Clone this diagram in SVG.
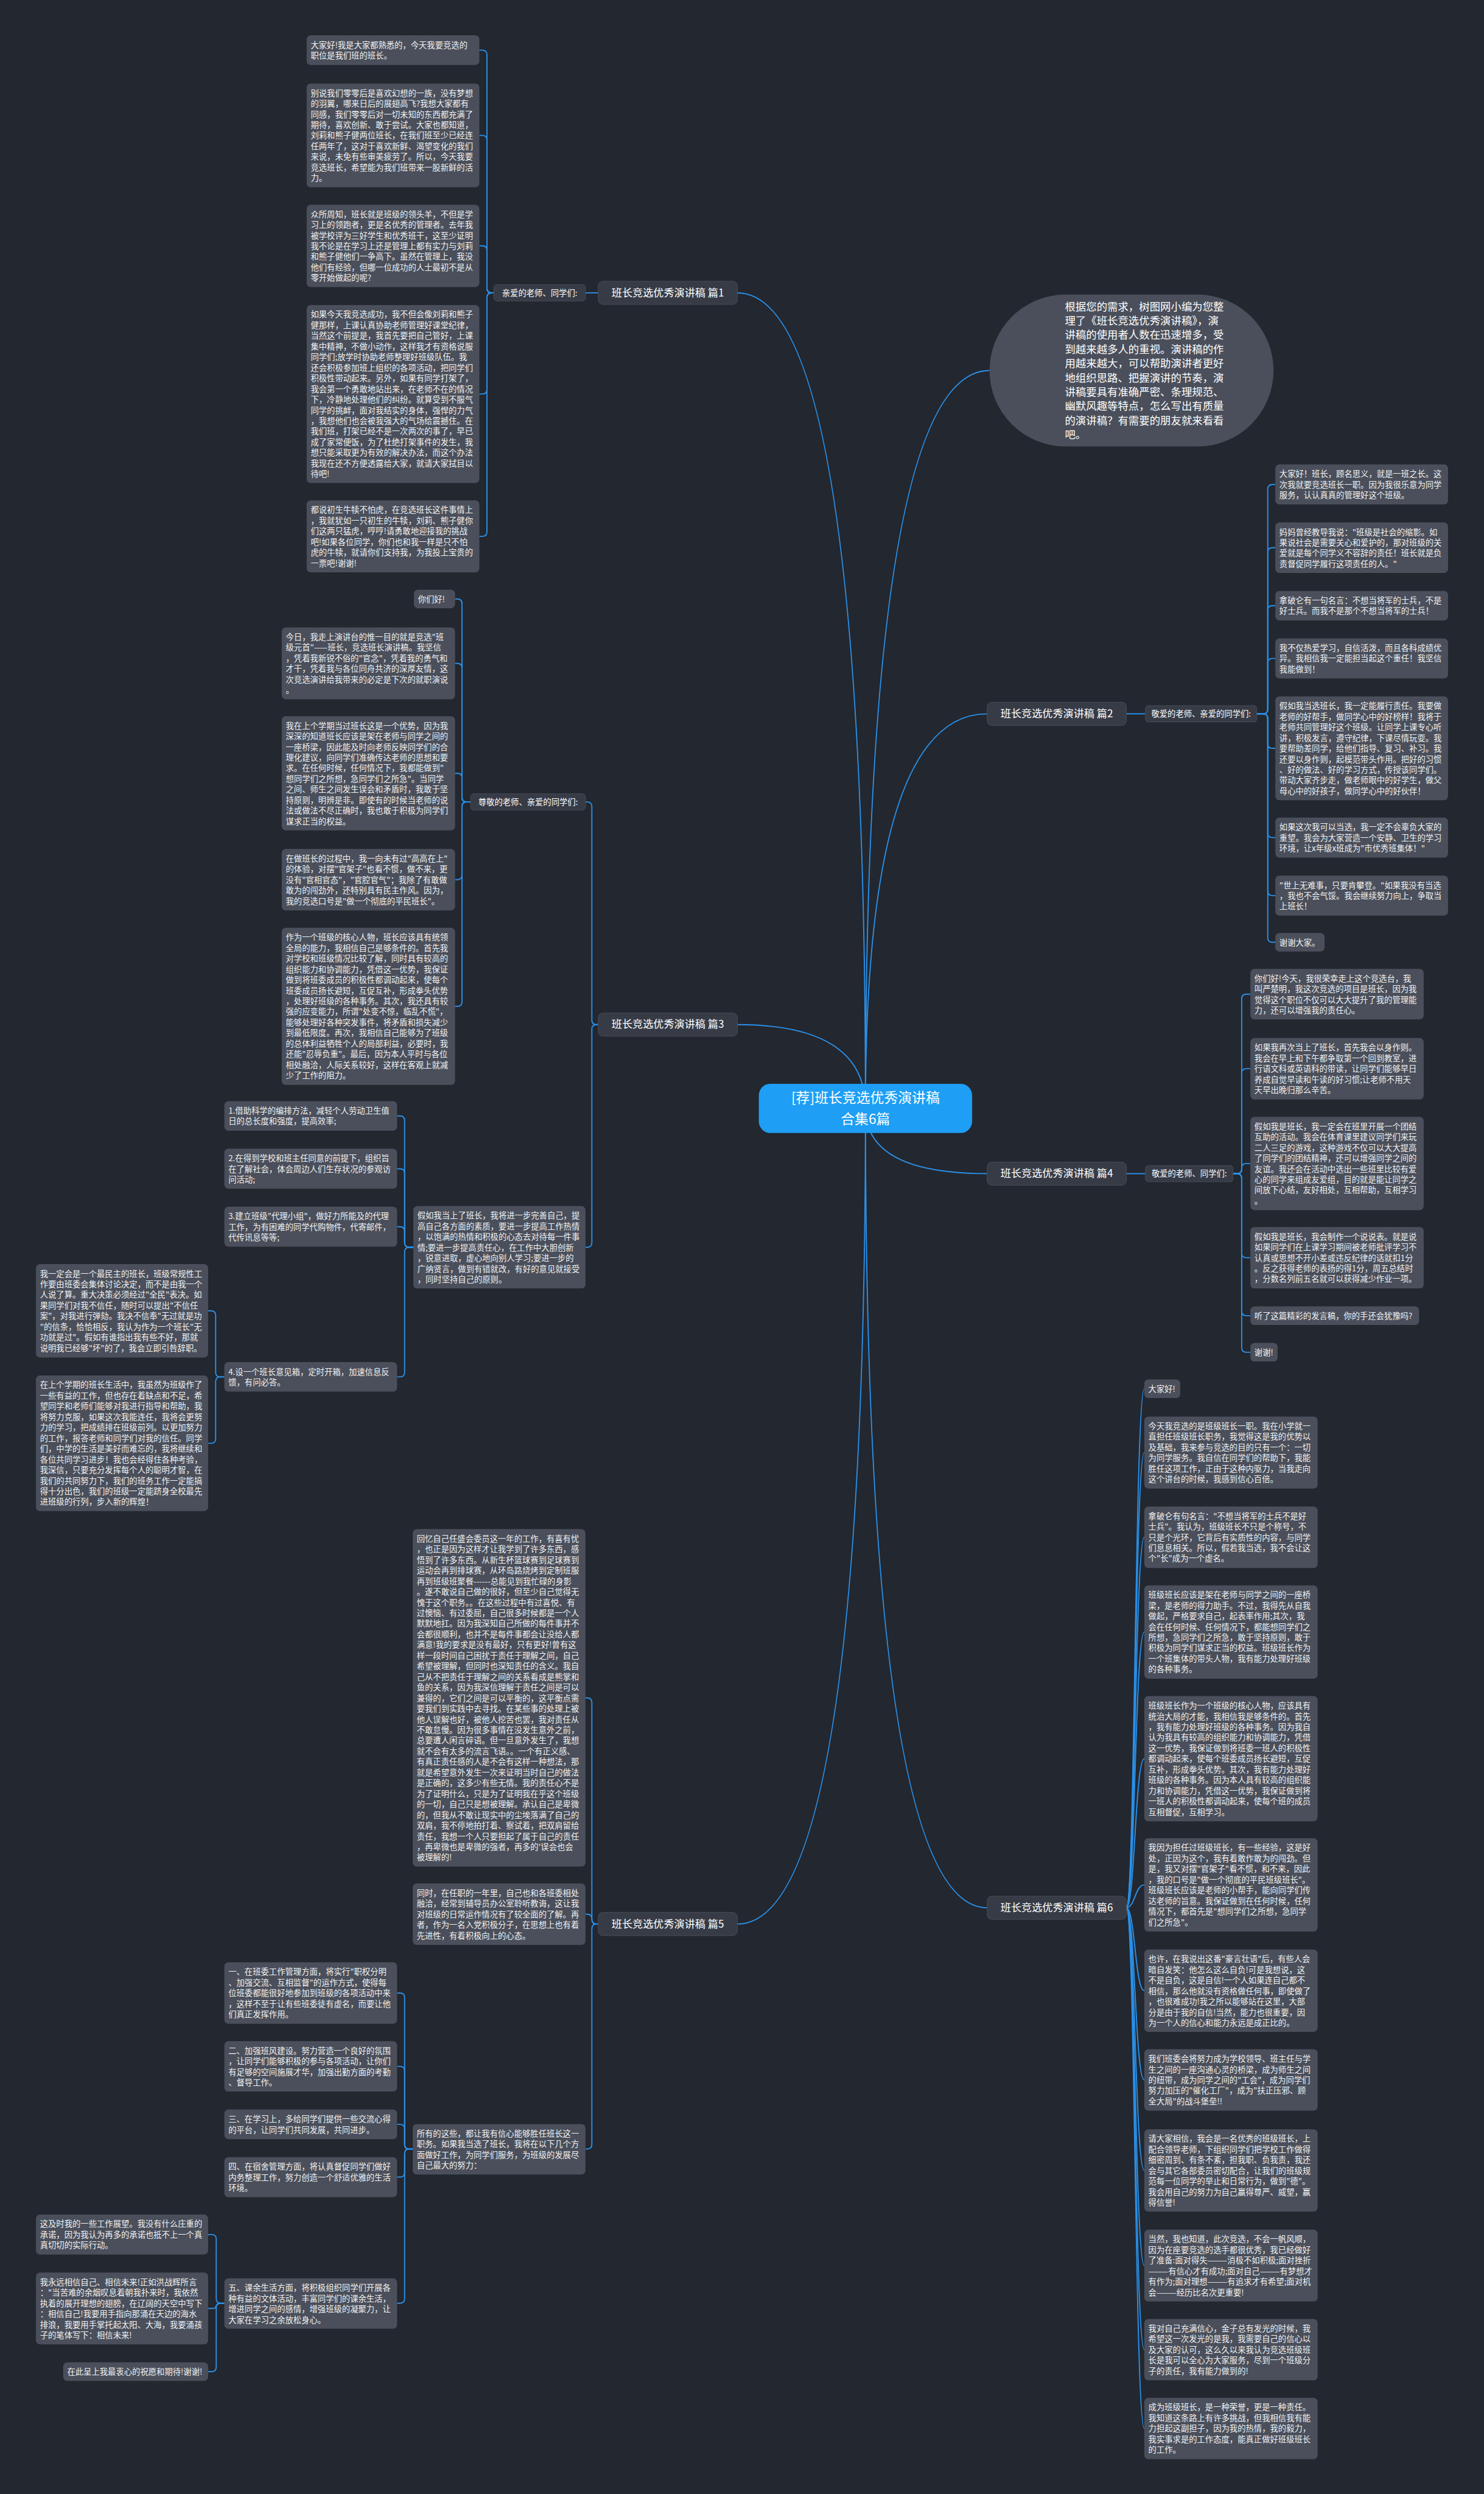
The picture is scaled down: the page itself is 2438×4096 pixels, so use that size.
<svg xmlns="http://www.w3.org/2000/svg" width="2438" height="4096" viewBox="0 0 2438 4096">
<style>
.bg{fill:#23272f}
.bx{fill:#4a4f5b}
.t{font-family:"Noto Sans CJK SC","Noto Sans",sans-serif;font-size:14px;fill:#f2f2f2}
.ln{fill:none;stroke:#2a90e8;stroke-width:2}
.n1{fill:#363b46;stroke:#4a4f5b;stroke-width:1}
.t1{font-family:"Noto Sans CJK SC","Noto Sans",sans-serif;font-size:18px;fill:#ffffff;text-anchor:middle}
.t2{font-family:"Noto Sans CJK SC","Noto Sans",sans-serif;font-size:14px;fill:#ffffff;text-anchor:middle}
.tr{font-family:"Noto Sans CJK SC","Noto Sans",sans-serif;font-size:24px;fill:#ffffff;text-anchor:middle}
.ts{font-family:"Noto Sans CJK SC","Noto Sans",sans-serif;font-size:18.3px;fill:#ffffff}
</style>
<rect class="bg" width="2438" height="4096"/>
<g transform="scale(0.95234)">
<g id="connectors">
<path class="ln" d="M1493 1911 Q1493 505 1272 505"/>
<path class="ln" d="M1493 1911 Q1493 1767 1272 1767"/>
<path class="ln" d="M1493 1911 Q1493 3318 1272 3318"/>
<path class="ln" d="M1493 1911 Q1493 639 1707 639"/>
<path class="ln" d="M1493 1911 Q1493 1231 1703 1231"/>
<path class="ln" d="M1493 1911 Q1493 2024 1703 2024"/>
<path class="ln" d="M1493 1911 Q1493 3290 1703 3290"/>
<path class="ln" d="M1032 505 H1010"/>
<path class="ln" d="M852 505 H848 Q840 505 840 497 V94.5 Q840 86.5 832 86.5 H827"/>
<path class="ln" d="M852 505 H848 Q840 505 840 497 V241.5 Q840 233.5 832 233.5 H827"/>
<path class="ln" d="M852 505 H848 Q840 505 840 497 V432 Q840 424 832 424 H827"/>
<path class="ln" d="M852 505 H848 Q840 505 840 513 V671.5 Q840 679.5 832 679.5 H827"/>
<path class="ln" d="M852 505 H848 Q840 505 840 513 V917 Q840 925 832 925 H827"/>
<path class="ln" d="M1032 1767 H1029 Q1021 1767 1021 1759 V1391 Q1021 1383 1013 1383 H1010"/>
<path class="ln" d="M1032 1767 H1029 Q1021 1767 1021 1775 V2143 Q1021 2151 1013 2151 H1010"/>
<path class="ln" d="M812 1383 H805 Q797 1383 797 1375 V1041 Q797 1033 789 1033 H785"/>
<path class="ln" d="M812 1383 H805 Q797 1383 797 1375 V1152 Q797 1144 789 1144 H785"/>
<path class="ln" d="M812 1383 H805 Q797 1383 797 1375 V1341.5 Q797 1333.5 789 1333.5 H785"/>
<path class="ln" d="M812 1383 H805 Q797 1383 797 1391 V1509 Q797 1517 789 1517 H785"/>
<path class="ln" d="M812 1383 H805 Q797 1383 797 1391 V1727.5 Q797 1735.5 789 1735.5 H785"/>
<path class="ln" d="M713 2151 H706 Q698 2151 698 2143 V1932.5 Q698 1924.5 690 1924.5 H685"/>
<path class="ln" d="M713 2151 H706 Q698 2151 698 2143 V2023.5 Q698 2015.5 690 2015.5 H685"/>
<path class="ln" d="M713 2151 H706 Q698 2151 698 2143 V2123.5 Q698 2115.5 690 2115.5 H685"/>
<path class="ln" d="M713 2151 H706 Q698 2151 698 2159 V2366.5 Q698 2374.5 690 2374.5 H685"/>
<path class="ln" d="M387 2374.5 H380 Q372 2374.5 372 2366.5 V2268.5 Q372 2260.5 364 2260.5 H359"/>
<path class="ln" d="M387 2374.5 H380 Q372 2374.5 372 2382.5 V2481 Q372 2489 364 2489 H359"/>
<path class="ln" d="M1032 3318 H1029 Q1021 3318 1021 3310 V2936 Q1021 2928 1013 2928 H1010"/>
<path class="ln" d="M1032 3318 H1029 Q1021 3318 1021 3310 V3309 Q1021 3301 1013 3301 H1010"/>
<path class="ln" d="M1032 3318 H1029 Q1021 3318 1021 3326 V3698 Q1021 3706 1013 3706 H1010"/>
<path class="ln" d="M712 3706 H706 Q698 3706 698 3698 V3445 Q698 3437 690 3437 H685"/>
<path class="ln" d="M712 3706 H706 Q698 3706 698 3698 V3571.5 Q698 3563.5 690 3563.5 H685"/>
<path class="ln" d="M712 3706 H706 Q698 3706 698 3698 V3671.5 Q698 3663.5 690 3663.5 H685"/>
<path class="ln" d="M712 3706 H706 Q698 3706 698 3714 V3746.5 Q698 3754.5 690 3754.5 H685"/>
<path class="ln" d="M712 3706 H706 Q698 3706 698 3714 V3964 Q698 3972 690 3972 H685"/>
<path class="ln" d="M387 3972 H381 Q373 3972 373 3964 V3861.5 Q373 3853.5 365 3853.5 H359"/>
<path class="ln" d="M387 3972 H377 C373 3972 373 3981 369 3981 H359"/>
<path class="ln" d="M387 3972 H381 Q373 3972 373 3980 V4082 Q373 4090 365 4090 H359"/>
<path class="ln" d="M1943 1231 H1976"/>
<path class="ln" d="M2168 1231 H2179 Q2187 1231 2187 1223 V843.5 Q2187 835.5 2195 835.5 H2200"/>
<path class="ln" d="M2168 1231 H2179 Q2187 1231 2187 1223 V952.5 Q2187 944.5 2195 944.5 H2200"/>
<path class="ln" d="M2168 1231 H2179 Q2187 1231 2187 1223 V1052.5 Q2187 1044.5 2195 1044.5 H2200"/>
<path class="ln" d="M2168 1231 H2179 Q2187 1231 2187 1223 V1143.5 Q2187 1135.5 2195 1135.5 H2200"/>
<path class="ln" d="M2168 1231 H2179 Q2187 1231 2187 1239 V1282.5 Q2187 1290.5 2195 1290.5 H2200"/>
<path class="ln" d="M2168 1231 H2179 Q2187 1231 2187 1239 V1436.5 Q2187 1444.5 2195 1444.5 H2200"/>
<path class="ln" d="M2168 1231 H2179 Q2187 1231 2187 1239 V1536.5 Q2187 1544.5 2195 1544.5 H2200"/>
<path class="ln" d="M2168 1231 H2179 Q2187 1231 2187 1239 V1617 Q2187 1625 2195 1625 H2200"/>
<path class="ln" d="M1943 2024 H1976"/>
<path class="ln" d="M2127 2024 H2134 Q2142 2024 2142 2016 V1722.5 Q2142 1714.5 2150 1714.5 H2157"/>
<path class="ln" d="M2127 2024 H2134 Q2142 2024 2142 2016 V1851 Q2142 1843 2150 1843 H2157"/>
<path class="ln" d="M2127 2024 H2134 Q2142 2024 2142 2016 V2014.5 Q2142 2006.5 2150 2006.5 H2157"/>
<path class="ln" d="M2127 2024 H2134 Q2142 2024 2142 2032 V2161 Q2142 2169 2150 2169 H2157"/>
<path class="ln" d="M2127 2024 H2134 Q2142 2024 2142 2032 V2261 Q2142 2269 2150 2269 H2157"/>
<path class="ln" d="M2127 2024 H2134 Q2142 2024 2142 2032 V2324 Q2142 2332 2150 2332 H2157"/>
<path class="ln" d="M1943 3290 C1958 3290 1958 2395 1974 2395"/>
<path class="ln" d="M1943 3290 C1958 3290 1958 2505 1974 2505"/>
<path class="ln" d="M1943 3290 C1958 3290 1958 2651 1974 2651"/>
<path class="ln" d="M1943 3290 C1958 3290 1958 2814.5 1974 2814.5"/>
<path class="ln" d="M1943 3290 C1958 3290 1958 3033 1974 3033"/>
<path class="ln" d="M1943 3290 C1958 3290 1958 3250.5 1974 3250.5"/>
<path class="ln" d="M1943 3290 C1958 3290 1958 3433 1974 3433"/>
<path class="ln" d="M1943 3290 C1958 3290 1958 3587 1974 3587"/>
<path class="ln" d="M1943 3290 C1958 3290 1958 3743 1974 3743"/>
<path class="ln" d="M1943 3290 C1958 3290 1958 3907 1974 3907"/>
<path class="ln" d="M1943 3290 C1958 3290 1958 4052 1974 4052"/>
<path class="ln" d="M1943 3290 C1958 3290 1958 4188 1974 4188"/>
</g>

<g id="n-root"><rect x="1309" y="1869" width="368" height="85" rx="20" fill="#1e9ef4"/><text class="tr" x="1493" y="1902"><tspan x="1493">[荐]班长竞选优秀演讲稿</tspan><tspan x="1493" dy="36">合集6篇</tspan></text></g>

<g id="n-summary"><rect x="1707" y="508" width="490" height="262" rx="131" class="bx"/><text class="ts" x="1837" y="535"><tspan x="1837">根据您的需求，树图网小编为您整</tspan><tspan x="1837" dy="24.6">理了《班长竞选优秀演讲稿》，演</tspan><tspan x="1837" dy="24.6">讲稿的使用者人数在迅速增多，受</tspan><tspan x="1837" dy="24.6">到越来越多人的重视。演讲稿的作</tspan><tspan x="1837" dy="24.6">用越来越大，可以帮助演讲者更好</tspan><tspan x="1837" dy="24.6">地组织思路、把握演讲的节奏，演</tspan><tspan x="1837" dy="24.6">讲稿要具有准确严密、条理规范、</tspan><tspan x="1837" dy="24.6">幽默风趣等特点，怎么写出有质量</tspan><tspan x="1837" dy="24.6">的演讲稿？有需要的朋友就来看看</tspan><tspan x="1837" dy="24.6">吧。</tspan></text></g>

<g id="n-p1"><rect class="n1" x="1032" y="485" width="240" height="40" rx="8"/><text class="t1" x="1152" y="511">班长竞选优秀演讲稿 篇1</text></g>
<g id="n-p2"><rect class="n1" x="1703" y="1211" width="240" height="40" rx="8"/><text class="t1" x="1823" y="1237">班长竞选优秀演讲稿 篇2</text></g>
<g id="n-p3"><rect class="n1" x="1032" y="1747" width="240" height="40" rx="8"/><text class="t1" x="1152" y="1773">班长竞选优秀演讲稿 篇3</text></g>
<g id="n-p4"><rect class="n1" x="1703" y="2004" width="240" height="40" rx="8"/><text class="t1" x="1823" y="2030">班长竞选优秀演讲稿 篇4</text></g>
<g id="n-p5"><rect class="n1" x="1032" y="3298" width="240" height="40" rx="8"/><text class="t1" x="1152" y="3324">班长竞选优秀演讲稿 篇5</text></g>
<g id="n-p6"><rect class="n1" x="1703" y="3270" width="240" height="40" rx="8"/><text class="t1" x="1823" y="3296">班长竞选优秀演讲稿 篇6</text></g>

<g id="n-p1-s"><rect class="n1" x="852" y="491" width="158" height="28" rx="5"/><text class="t2" x="931" y="510">亲爱的老师、同学们:</text></g>
<g id="n-p3-s"><rect class="n1" x="812" y="1369" width="198" height="28" rx="5"/><text class="t2" x="911" y="1388">尊敬的老师、亲爱的同学们:</text></g>
<g id="n-p2-s"><rect class="n1" x="1976" y="1217" width="192" height="28" rx="5"/><text class="t2" x="2072" y="1236">敬爱的老师、亲爱的同学们:</text></g>
<g id="n-p4-s"><rect class="n1" x="1976" y="2010" width="151" height="28" rx="5"/><text class="t2" x="2051.5" y="2029">敬爱的老师、同学们:</text></g>

<g id="n-a1"><rect class="bx" x="529" y="61" width="298" height="51" rx="7"/><text class="t" x="536" y="82.5"><tspan x="536">大家好!我是大家都熟悉的，今天我要竞选的</tspan><tspan x="536" dy="18.33">职位是我们班的班长。</tspan></text></g>
<g id="n-a2"><rect class="bx" x="529" y="144" width="298" height="179" rx="7"/><text class="t" x="536" y="165.5"><tspan x="536">别说我们零零后是喜欢幻想的一族，没有梦想</tspan><tspan x="536" dy="18.33">的羽翼，哪来日后的展翅高飞?我想大家都有</tspan><tspan x="536" dy="18.33">同感，我们零零后对一切未知的东西都充满了</tspan><tspan x="536" dy="18.33">期待，喜欢创新、敢于尝试。大家也都知道，</tspan><tspan x="536" dy="18.33">刘莉和熊子健两位班长，在我们班至少已经连</tspan><tspan x="536" dy="18.33">任两年了，这对于喜欢新鲜、渴望变化的我们</tspan><tspan x="536" dy="18.33">来说，未免有些审美疲劳了。所以，今天我要</tspan><tspan x="536" dy="18.33">竞选班长，希望能为我们班带来一股新鲜的活</tspan><tspan x="536" dy="18.33">力。</tspan></text></g>
<g id="n-a3"><rect class="bx" x="529" y="353" width="298" height="142" rx="7"/><text class="t" x="536" y="374.5"><tspan x="536">众所周知，班长就是班级的领头羊，不但是学</tspan><tspan x="536" dy="18.33">习上的领跑者，更是名优秀的管理者。去年我</tspan><tspan x="536" dy="18.33">被学校评为三好学生和优秀班干，这至少证明</tspan><tspan x="536" dy="18.33">我不论是在学习上还是管理上都有实力与刘莉</tspan><tspan x="536" dy="18.33">和熊子健他们一争高下。虽然在管理上，我没</tspan><tspan x="536" dy="18.33">他们有经验，但哪一位成功的人士最初不是从</tspan><tspan x="536" dy="18.33">零开始做起的呢?</tspan></text></g>
<g id="n-a4"><rect class="bx" x="529" y="526" width="298" height="307" rx="7"/><text class="t" x="536" y="547.5"><tspan x="536">如果今天我竞选成功，我不但会像刘莉和熊子</tspan><tspan x="536" dy="18.33">健那样，上课认真协助老师管理好课堂纪律，</tspan><tspan x="536" dy="18.33">当然这个前提是，我首先要把自己管好，上课</tspan><tspan x="536" dy="18.33">集中精神，不做小动作，这样我才有资格说服</tspan><tspan x="536" dy="18.33">同学们;放学时协助老师整理好班级队伍。我</tspan><tspan x="536" dy="18.33">还会积极参加班上组织的各项活动，把同学们</tspan><tspan x="536" dy="18.33">积极性带动起来。另外，如果有同学打架了，</tspan><tspan x="536" dy="18.33">我会第一个勇敢地站出来，在老师不在的情况</tspan><tspan x="536" dy="18.33">下，冷静地处理他们的纠纷。就算受到不服气</tspan><tspan x="536" dy="18.33">同学的挑衅，面对我结实的身体，强悍的力气</tspan><tspan x="536" dy="18.33">，我想他们也会被我强大的气场给震撼住。在</tspan><tspan x="536" dy="18.33">我们班，打架已经不是一次两次的事了，早已</tspan><tspan x="536" dy="18.33">成了家常便饭，为了杜绝打架事件的发生，我</tspan><tspan x="536" dy="18.33">想只能采取更为有效的解决办法，而这个办法</tspan><tspan x="536" dy="18.33">我现在还不方便透露给大家，就请大家拭目以</tspan><tspan x="536" dy="18.33">待吧!</tspan></text></g>
<g id="n-a5"><rect class="bx" x="529" y="863" width="298" height="124" rx="7"/><text class="t" x="536" y="884.5"><tspan x="536">都说初生牛犊不怕虎，在竞选班长这件事情上</tspan><tspan x="536" dy="18.33">，我就犹如一只初生的牛犊，刘莉、熊子健你</tspan><tspan x="536" dy="18.33">们这两只猛虎，哼哼!请勇敢地迎接我的挑战</tspan><tspan x="536" dy="18.33">吧!如果各位同学，你们也和我一样是只不怕</tspan><tspan x="536" dy="18.33">虎的牛犊，就请你们支持我，为我投上宝贵的</tspan><tspan x="536" dy="18.33">一票吧!谢谢!</tspan></text></g>

<g id="n-b1"><rect class="bx" x="714" y="1017" width="71" height="32" rx="7"/><text class="t" x="721" y="1038.5">你们好!</text></g>
<g id="n-b2"><rect class="bx" x="486" y="1082" width="299" height="124" rx="7"/><text class="t" x="493" y="1103.5"><tspan x="493">今日，我走上演讲台的惟一目的就是竞选"班</tspan><tspan x="493" dy="18.33">级元首"——班长，竞选班长演讲稿。我坚信</tspan><tspan x="493" dy="18.33">，凭着我新锐不俗的"官念"，凭着我的勇气和</tspan><tspan x="493" dy="18.33">才干，凭着我与各位同舟共济的深厚友情，这</tspan><tspan x="493" dy="18.33">次竞选演讲给我带来的必定是下次的就职演说</tspan><tspan x="493" dy="18.33">。</tspan></text></g>
<g id="n-b3"><rect class="bx" x="486" y="1235" width="299" height="197" rx="7"/><text class="t" x="493" y="1256.5"><tspan x="493">我在上个学期当过班长这是一个优势，因为我</tspan><tspan x="493" dy="18.33">深深的知道班长应该是架在老师与同学之间的</tspan><tspan x="493" dy="18.33">一座桥梁，因此能及时向老师反映同学们的合</tspan><tspan x="493" dy="18.33">理化建议，向同学们准确传达老师的思想和要</tspan><tspan x="493" dy="18.33">求。在任何时候，任何情况下，我都能做到"</tspan><tspan x="493" dy="18.33">想同学们之所想，急同学们之所急"。当同学</tspan><tspan x="493" dy="18.33">之间、师生之间发生误会和矛盾时，我敢于坚</tspan><tspan x="493" dy="18.33">持原则，明辨是非。即使有的时候当老师的说</tspan><tspan x="493" dy="18.33">法或做法不尽正确时，我也敢于积极为同学们</tspan><tspan x="493" dy="18.33">谋求正当的权益。</tspan></text></g>
<g id="n-b4"><rect class="bx" x="486" y="1464" width="299" height="106" rx="7"/><text class="t" x="493" y="1485.5"><tspan x="493">在做班长的过程中，我一向未有过"高高在上"</tspan><tspan x="493" dy="18.33">的体验，对摆"官架子"也看不惯，做不来，更</tspan><tspan x="493" dy="18.33">没有"官相官态"，"官腔官气"；我除了有敢做</tspan><tspan x="493" dy="18.33">敢为的闯劲外，还特别具有民主作风。因为，</tspan><tspan x="493" dy="18.33">我的竞选口号是"做一个彻底的平民班长"。</tspan></text></g>
<g id="n-b5"><rect class="bx" x="486" y="1600" width="299" height="271" rx="7"/><text class="t" x="493" y="1621.5"><tspan x="493">作为一个班级的核心人物，班长应该具有统领</tspan><tspan x="493" dy="18.33">全局的能力，我相信自己是够条件的。首先我</tspan><tspan x="493" dy="18.33">对学校和班级情况比较了解，同时具有较高的</tspan><tspan x="493" dy="18.33">组织能力和协调能力，凭借这一优势，我保证</tspan><tspan x="493" dy="18.33">做到将班委成员的积极性都调动起来，使每个</tspan><tspan x="493" dy="18.33">班委成员扬长避短，互促互补，形成拳头优势</tspan><tspan x="493" dy="18.33">，处理好班级的各种事务。其次，我还具有较</tspan><tspan x="493" dy="18.33">强的应变能力，所谓"处变不惊，临乱不慌"，</tspan><tspan x="493" dy="18.33">能够处理好各种突发事件，将矛盾和损失减少</tspan><tspan x="493" dy="18.33">到最低限度。再次，我相信自己能够为了班级</tspan><tspan x="493" dy="18.33">的总体利益牺牲个人的局部利益，必要时，我</tspan><tspan x="493" dy="18.33">还能"忍辱负重"。最后，因为本人平时与各位</tspan><tspan x="493" dy="18.33">相处融洽，人际关系较好，这样在客观上就减</tspan><tspan x="493" dy="18.33">少了工作的阻力。</tspan></text></g>

<g id="n-t3"><rect class="bx" x="713" y="2080" width="297" height="142" rx="7"/><text class="t" x="720" y="2101.5"><tspan x="720">假如我当上了班长，我将进一步完善自己，提</tspan><tspan x="720" dy="18.33">高自己各方面的素质，要进一步提高工作热情</tspan><tspan x="720" dy="18.33">，以饱满的热情和积极的心态去对待每一件事</tspan><tspan x="720" dy="18.33">情;要进一步提高责任心，在工作中大胆创新</tspan><tspan x="720" dy="18.33">，锐意进取，虚心地向别人学习;要进一步的</tspan><tspan x="720" dy="18.33">广纳贤言，做到有错就改，有好的意见就接受</tspan><tspan x="720" dy="18.33">，同时坚持自己的原则。</tspan></text></g>
<g id="n-c1"><rect class="bx" x="387" y="1899" width="298" height="51" rx="7"/><text class="t" x="394" y="1920.5"><tspan x="394">1.借助科学的编排方法，减轻个人劳动卫生值</tspan><tspan x="394" dy="18.33">日的总长度和强度，提高效率;</tspan></text></g>
<g id="n-c2"><rect class="bx" x="387" y="1981" width="298" height="69" rx="7"/><text class="t" x="394" y="2002.5"><tspan x="394">2.在得到学校和班主任同意的前提下，组织旨</tspan><tspan x="394" dy="18.33">在了解社会，体会周边人们生存状况的参观访</tspan><tspan x="394" dy="18.33">问活动;</tspan></text></g>
<g id="n-c3"><rect class="bx" x="387" y="2081" width="298" height="69" rx="7"/><text class="t" x="394" y="2102.5"><tspan x="394">3.建立班级"代理小组"，做好力所能及的代理</tspan><tspan x="394" dy="18.33">工作，为有困难的同学代购物件，代寄邮件，</tspan><tspan x="394" dy="18.33">代传讯息等等;</tspan></text></g>
<g id="n-c4"><rect class="bx" x="387" y="2349" width="298" height="51" rx="7"/><text class="t" x="394" y="2370.5"><tspan x="394">4.设一个班长意见箱，定时开箱，加速信息反</tspan><tspan x="394" dy="18.33">馈，有问必答。</tspan></text></g>
<g id="n-d1"><rect class="bx" x="62" y="2180" width="297" height="161" rx="7"/><text class="t" x="69" y="2201.5"><tspan x="69">我一定会是一个最民主的班长，班级常规性工</tspan><tspan x="69" dy="18.33">作要由班委会集体讨论决定，而不是由我一个</tspan><tspan x="69" dy="18.33">人说了算。重大决策必须经过"全民"表决。如</tspan><tspan x="69" dy="18.33">果同学们对我不信任，随时可以提出"不信任</tspan><tspan x="69" dy="18.33">案"，对我进行弹劾。我决不信奉"无过就是功</tspan><tspan x="69" dy="18.33">"的信条，恰恰相反，我认为作为一个班长"无</tspan><tspan x="69" dy="18.33">功就是过"。假如有谁指出我有些不好，那就</tspan><tspan x="69" dy="18.33">说明我已经够"坏"的了，我会立即引咎辞职。</tspan></text></g>
<g id="n-d2"><rect class="bx" x="62" y="2372" width="297" height="234" rx="7"/><text class="t" x="69" y="2393.5"><tspan x="69">在上个学期的班长生活中，我虽然为班级作了</tspan><tspan x="69" dy="18.33">一些有益的工作，但也存在着缺点和不足，希</tspan><tspan x="69" dy="18.33">望同学和老师们能够对我进行指导和帮助，我</tspan><tspan x="69" dy="18.33">将努力克服，如果这次我能连任，我将会更努</tspan><tspan x="69" dy="18.33">力的学习，把成绩排在班级前列。以更加努力</tspan><tspan x="69" dy="18.33">的工作，报答老师和同学们对我的信任。同学</tspan><tspan x="69" dy="18.33">们，中学的生活是美好而难忘的，我将继续和</tspan><tspan x="69" dy="18.33">各位共同学习进步！我也会经得住各种考验，</tspan><tspan x="69" dy="18.33">我深信，只要充分发挥每个人的聪明才智，在</tspan><tspan x="69" dy="18.33">我们的共同努力下，我们的班务工作一定能搞</tspan><tspan x="69" dy="18.33">得十分出色，我们的班级一定能跻身全校最先</tspan><tspan x="69" dy="18.33">进班级的行列，步入新的辉煌！</tspan></text></g>

<g id="n-e1"><rect class="bx" x="712" y="2637" width="298" height="582" rx="7"/><text class="t" x="719" y="2658.5"><tspan x="719">回忆自己任盛会委员这一年的工作，有喜有忧</tspan><tspan x="719" dy="18.33">，也正是因为这样才让我学到了许多东西，感</tspan><tspan x="719" dy="18.33">悟到了许多东西。从新生杯篮球赛到足球赛到</tspan><tspan x="719" dy="18.33">运动会再到排球赛，从环岛路烧烤到定制班服</tspan><tspan x="719" dy="18.33">再到班级班聚餐------总能见到我忙碌的身影</tspan><tspan x="719" dy="18.33">。遂不敢说自己做的很好，但至少自己觉得无</tspan><tspan x="719" dy="18.33">愧于这个职务。。在这些过程中有过喜悦、有</tspan><tspan x="719" dy="18.33">过懊恼、有过委屈，自己很多时候都是一个人</tspan><tspan x="719" dy="18.33">默默地扛。因为我深知自己所做的每件事并不</tspan><tspan x="719" dy="18.33">会都很顺利，也并不是每件事都会让没给人都</tspan><tspan x="719" dy="18.33">满意!我的要求是没有最好，只有更好!曾有这</tspan><tspan x="719" dy="18.33">样一段时间自己困扰于责任于理解之间，自己</tspan><tspan x="719" dy="18.33">希望被理解，但同时也深知责任的含义。我自</tspan><tspan x="719" dy="18.33">己从不把责任于理解之间的关系看成是熊掌和</tspan><tspan x="719" dy="18.33">鱼的关系，因为我深信理解于责任之间是可以</tspan><tspan x="719" dy="18.33">兼得的，它们之间是可以平衡的，这平衡点需</tspan><tspan x="719" dy="18.33">要我们到实践中去寻找。在某些事的处理上被</tspan><tspan x="719" dy="18.33">他人误解也好，被他人挖苦也罢，我对责任从</tspan><tspan x="719" dy="18.33">不敢怠慢。因为很多事情在没发生意外之前，</tspan><tspan x="719" dy="18.33">总要遭人闲言碎语。但一旦意外发生了，我想</tspan><tspan x="719" dy="18.33">就不会有太多的流言飞语。。一个有正义感、</tspan><tspan x="719" dy="18.33">有真正责任感的人是不会有这样一种想法，那</tspan><tspan x="719" dy="18.33">就是希望意外发生一次来证明当时自己的做法</tspan><tspan x="719" dy="18.33">是正确的，这多少有些无情。我的责任心不是</tspan><tspan x="719" dy="18.33">为了证明什么，只是为了证明我在乎这个班级</tspan><tspan x="719" dy="18.33">的一切，自己只是想被理解。承认自己是卑微</tspan><tspan x="719" dy="18.33">的，但我从不敢让现实中的尘埃落满了自己的</tspan><tspan x="719" dy="18.33">双肩，我不停地拍打着、察试着，把双肩留给</tspan><tspan x="719" dy="18.33">责任，我想一个人只要担起了属于自己的责任</tspan><tspan x="719" dy="18.33">，再卑微也是卑微的强者，再多的'误会也会</tspan><tspan x="719" dy="18.33">被理解的!</tspan></text></g>
<g id="n-e2"><rect class="bx" x="712" y="3248" width="298" height="106" rx="7"/><text class="t" x="719" y="3269.5"><tspan x="719">同时，在任职的一年里，自己也和各班委相处</tspan><tspan x="719" dy="18.33">融洽，经常到辅导员办公室聆听教诲，这让我</tspan><tspan x="719" dy="18.33">对班级的日常运作情况有了较全面的了解。再</tspan><tspan x="719" dy="18.33">者，作为一名入党积极分子，在思想上也有着</tspan><tspan x="719" dy="18.33">先进性，有着积极向上的心态。</tspan></text></g>
<g id="n-s5"><rect class="bx" x="712" y="3663" width="298" height="87" rx="7"/><text class="t" x="719" y="3684.5"><tspan x="719">所有的这些，都让我有信心能够胜任班长这一</tspan><tspan x="719" dy="18.33">职务。如果我当选了班长，我将在以下几个方</tspan><tspan x="719" dy="18.33">面做好工作，为同学们服务，为班级的发展尽</tspan><tspan x="719" dy="18.33">自己最大的努力：</tspan></text></g>
<g id="n-f1"><rect class="bx" x="387" y="3384" width="298" height="106" rx="7"/><text class="t" x="394" y="3405.5"><tspan x="394">一、在班委工作管理方面，将实行"职权分明</tspan><tspan x="394" dy="18.33">、加强交流、互相监督"的运作方式，使得每</tspan><tspan x="394" dy="18.33">位班委都能很好地参加到班级的各项活动中来</tspan><tspan x="394" dy="18.33">，这样不至于让有些班委徒有虚名，而要让他</tspan><tspan x="394" dy="18.33">们真正发挥作用。</tspan></text></g>
<g id="n-f2"><rect class="bx" x="387" y="3520" width="298" height="87" rx="7"/><text class="t" x="394" y="3541.5"><tspan x="394">二、加强班风建设。努力营造一个良好的氛围</tspan><tspan x="394" dy="18.33">，让同学们能够积极的参与各项活动，让你们</tspan><tspan x="394" dy="18.33">有足够的空间施展才华，加强出勤方面的考勤</tspan><tspan x="394" dy="18.33">、督导工作。</tspan></text></g>
<g id="n-f3"><rect class="bx" x="387" y="3638" width="298" height="51" rx="7"/><text class="t" x="394" y="3659.5"><tspan x="394">三、在学习上，多给同学们提供一些交流心得</tspan><tspan x="394" dy="18.33">的平台，让同学们共同发展，共同进步。</tspan></text></g>
<g id="n-f4"><rect class="bx" x="387" y="3720" width="298" height="69" rx="7"/><text class="t" x="394" y="3741.5"><tspan x="394">四、在宿舍管理方面，将认真督促同学们做好</tspan><tspan x="394" dy="18.33">内务整理工作，努力创造一个舒适优雅的生活</tspan><tspan x="394" dy="18.33">环境。</tspan></text></g>
<g id="n-f5"><rect class="bx" x="387" y="3929" width="298" height="87" rx="7"/><text class="t" x="394" y="3950.5"><tspan x="394">五、课余生活方面，将积极组织同学们开展各</tspan><tspan x="394" dy="18.33">种有益的文体活动，丰富同学们的课余生活，</tspan><tspan x="394" dy="18.33">增进同学之间的感情，增强班级的凝聚力，让</tspan><tspan x="394" dy="18.33">大家在学习之余放松身心。</tspan></text></g>
<g id="n-g1"><rect class="bx" x="62" y="3819" width="297" height="69" rx="7"/><text class="t" x="69" y="3840.5"><tspan x="69">这及时我的一些工作展望。我没有什么庄重的</tspan><tspan x="69" dy="18.33">承诺，因为我认为再多的承诺也抵不上一个真</tspan><tspan x="69" dy="18.33">真切切的实际行动。</tspan></text></g>
<g id="n-g2"><rect class="bx" x="62" y="3919" width="297" height="124" rx="7"/><text class="t" x="69" y="3940.5"><tspan x="69">我永远相信自己、相信未来!正如洪战辉所言</tspan><tspan x="69" dy="18.33">："当苦难的余烟叹息着朝我扑来时，我依然</tspan><tspan x="69" dy="18.33">执着的展开理想的翅膀，在辽阔的天空中写下</tspan><tspan x="69" dy="18.33">：相信自己!我要用手指向那涌在天边的海水</tspan><tspan x="69" dy="18.33">排浪，我要用手掌托起太阳、大海，我要涌孩</tspan><tspan x="69" dy="18.33">子的笔体写下：相信未来!</tspan></text></g>
<g id="n-g3"><rect class="bx" x="109" y="4074" width="250" height="32" rx="7"/><text class="t" x="116" y="4095.5">在此呈上我最衷心的祝愿和期待!谢谢!</text></g>

<g id="n-h1"><rect class="bx" x="2200" y="801" width="298" height="69" rx="7"/><text class="t" x="2207" y="822.5"><tspan x="2207">大家好！班长，顾名思义，就是一班之长。这</tspan><tspan x="2207" dy="18.33">次我就要竞选班长一职。因为我很乐意为同学</tspan><tspan x="2207" dy="18.33">服务，认认真真的管理好这个班级。</tspan></text></g>
<g id="n-h2"><rect class="bx" x="2200" y="901" width="298" height="87" rx="7"/><text class="t" x="2207" y="922.5"><tspan x="2207">妈妈曾经教导我说："班级是社会的缩影。如</tspan><tspan x="2207" dy="18.33">果说社会是需要关心和爱护的，那对班级的关</tspan><tspan x="2207" dy="18.33">爱就是每个同学义不容辞的责任！班长就是负</tspan><tspan x="2207" dy="18.33">责督促同学履行这项责任的人。"</tspan></text></g>
<g id="n-h3"><rect class="bx" x="2200" y="1019" width="298" height="51" rx="7"/><text class="t" x="2207" y="1040.5"><tspan x="2207">拿破仑有一句名言：不想当将军的士兵，不是</tspan><tspan x="2207" dy="18.33">好士兵。而我不是那个不想当将军的士兵！</tspan></text></g>
<g id="n-h4"><rect class="bx" x="2200" y="1101" width="298" height="69" rx="7"/><text class="t" x="2207" y="1122.5"><tspan x="2207">我不仅热爱学习，自信活泼，而且各科成绩优</tspan><tspan x="2207" dy="18.33">异。我相信我一定能担当起这个重任！我坚信</tspan><tspan x="2207" dy="18.33">我能做到！</tspan></text></g>
<g id="n-h5"><rect class="bx" x="2200" y="1201" width="298" height="179" rx="7"/><text class="t" x="2207" y="1222.5"><tspan x="2207">假如我当选班长，我一定能履行责任。我要做</tspan><tspan x="2207" dy="18.33">老师的好帮手，做同学心中的好榜样！我将于</tspan><tspan x="2207" dy="18.33">老师共同管理好这个班级。让同学上课专心听</tspan><tspan x="2207" dy="18.33">讲，积极发言，遵守纪律，下课尽情玩耍。我</tspan><tspan x="2207" dy="18.33">要帮助差同学，给他们指导、复习、补习。我</tspan><tspan x="2207" dy="18.33">还要以身作则，起模范带头作用。把好的习惯</tspan><tspan x="2207" dy="18.33">、好的做法、好的学习方式，传授该同学们。</tspan><tspan x="2207" dy="18.33">带动大家齐步走，做老师眼中的好学生，做父</tspan><tspan x="2207" dy="18.33">母心中的好孩子，做同学心中的好伙伴！</tspan></text></g>
<g id="n-h6"><rect class="bx" x="2200" y="1410" width="298" height="69" rx="7"/><text class="t" x="2207" y="1431.5"><tspan x="2207">如果这次我可以当选，我一定不会辜负大家的</tspan><tspan x="2207" dy="18.33">重望。我会为大家营造一个安静、卫生的学习</tspan><tspan x="2207" dy="18.33">环境，让x年级x班成为"市优秀班集体！"</tspan></text></g>
<g id="n-h7"><rect class="bx" x="2200" y="1510" width="298" height="69" rx="7"/><text class="t" x="2207" y="1531.5"><tspan x="2207">"世上无难事，只要肯攀登。"如果我没有当选</tspan><tspan x="2207" dy="18.33">，我也不会气馁。我会继续努力向上，争取当</tspan><tspan x="2207" dy="18.33">上班长！</tspan></text></g>
<g id="n-h8"><rect class="bx" x="2200" y="1609" width="85" height="32" rx="7"/><text class="t" x="2207" y="1630.5">谢谢大家。</text></g>

<g id="n-i1"><rect class="bx" x="2157" y="1671" width="299" height="87" rx="7"/><text class="t" x="2164" y="1692.5"><tspan x="2164">你们好!今天，我很荣幸走上这个竞选台，我</tspan><tspan x="2164" dy="18.33">叫严楚明，我这次竞选的项目是班长，因为我</tspan><tspan x="2164" dy="18.33">觉得这个职位不仅可以大大提升了我的管理能</tspan><tspan x="2164" dy="18.33">力，还可以增强我的责任心。</tspan></text></g>
<g id="n-i2"><rect class="bx" x="2157" y="1790" width="299" height="106" rx="7"/><text class="t" x="2164" y="1811.5"><tspan x="2164">如果我再次当上了班长，首先我会以身作则。</tspan><tspan x="2164" dy="18.33">我会在早上和下午都争取第一个回到教室，进</tspan><tspan x="2164" dy="18.33">行语文科或英语科的带读，让同学们能够早日</tspan><tspan x="2164" dy="18.33">养成自觉早读和午读的好习惯;让老师不用天</tspan><tspan x="2164" dy="18.33">天早出晚归那么辛苦。</tspan></text></g>
<g id="n-i3"><rect class="bx" x="2157" y="1926" width="299" height="161" rx="7"/><text class="t" x="2164" y="1947.5"><tspan x="2164">假如我是班长，我一定会在班里开展一个团结</tspan><tspan x="2164" dy="18.33">互助的活动。我会在体育课里建议同学们来玩</tspan><tspan x="2164" dy="18.33">二人三足的游戏，这种游戏不仅可以大大提高</tspan><tspan x="2164" dy="18.33">了同学们的团结精神，还可以增强同学之间的</tspan><tspan x="2164" dy="18.33">友谊。我还会在活动中选出一些班里比较有爱</tspan><tspan x="2164" dy="18.33">心的同学来组成友爱组，目的就是能让同学之</tspan><tspan x="2164" dy="18.33">间放下心结，友好相处，互相帮助，互相学习</tspan><tspan x="2164" dy="18.33">。</tspan></text></g>
<g id="n-i4"><rect class="bx" x="2157" y="2116" width="299" height="106" rx="7"/><text class="t" x="2164" y="2137.5"><tspan x="2164">假如我是班长，我会制作一个说说表。就是说</tspan><tspan x="2164" dy="18.33">如果同学们在上课学习期间被老师批评学习不</tspan><tspan x="2164" dy="18.33">认真或思想不开小差或违反纪律的话就扣1分</tspan><tspan x="2164" dy="18.33">。反之获得老师的表扬的得1分，周五总结时</tspan><tspan x="2164" dy="18.33">，分数名列前五名就可以获得减少作业一项。</tspan></text></g>
<g id="n-i5"><rect class="bx" x="2157" y="2253" width="291" height="32" rx="7"/><text class="t" x="2164" y="2274.5">听了这篇精彩的发言稿，你的手还会犹豫吗?</text></g>
<g id="n-i6"><rect class="bx" x="2157" y="2316" width="47" height="32" rx="7"/><text class="t" x="2164" y="2337.5">谢谢!</text></g>

<g id="n-j1"><rect class="bx" x="1974" y="2379" width="62" height="32" rx="7"/><text class="t" x="1981" y="2400.5">大家好!</text></g>
<g id="n-j2"><rect class="bx" x="1974" y="2443" width="299" height="124" rx="7"/><text class="t" x="1981" y="2464.5"><tspan x="1981">今天我竞选的是班级班长一职。我在小学就一</tspan><tspan x="1981" dy="18.33">直担任班级班长职务，我觉得这是我的优势以</tspan><tspan x="1981" dy="18.33">及基础，我来参与竞选的目的只有一个：一切</tspan><tspan x="1981" dy="18.33">为同学服务。我自信在同学们的帮助下，我能</tspan><tspan x="1981" dy="18.33">胜任这项工作，正由于这种内驱力，当我走向</tspan><tspan x="1981" dy="18.33">这个讲台的时候，我感到信心百倍。</tspan></text></g>
<g id="n-j3"><rect class="bx" x="1974" y="2598" width="299" height="106" rx="7"/><text class="t" x="1981" y="2619.5"><tspan x="1981">拿破仑有句名言："不想当将军的士兵不是好</tspan><tspan x="1981" dy="18.33">士兵"。我认为，班级班长不只是个称号，不</tspan><tspan x="1981" dy="18.33">只是个光环，它背后有实质性的内容，与同学</tspan><tspan x="1981" dy="18.33">们息息相关。所以，假若我当选，我不会让这</tspan><tspan x="1981" dy="18.33">个"长"成为一个虚名。</tspan></text></g>
<g id="n-j4"><rect class="bx" x="1974" y="2734" width="299" height="161" rx="7"/><text class="t" x="1981" y="2755.5"><tspan x="1981">班级班长应该是架在老师与同学之间的一座桥</tspan><tspan x="1981" dy="18.33">梁，是老师的得力助手。不过，我得先从自我</tspan><tspan x="1981" dy="18.33">做起，严格要求自己，起表率作用;其次，我</tspan><tspan x="1981" dy="18.33">会在任何时候、任何情况下，都能想同学们之</tspan><tspan x="1981" dy="18.33">所想，急同学们之所急，敢于坚持原则，敢于</tspan><tspan x="1981" dy="18.33">积极为同学们谋求正当的权益。班级班长作为</tspan><tspan x="1981" dy="18.33">一个班集体的带头人物，我有能力处理好班级</tspan><tspan x="1981" dy="18.33">的各种事务。</tspan></text></g>
<g id="n-j5"><rect class="bx" x="1974" y="2925" width="299" height="216" rx="7"/><text class="t" x="1981" y="2946.5"><tspan x="1981">班级班长作为一个班级的核心人物，应该具有</tspan><tspan x="1981" dy="18.33">统治大局的才能，我相信我是够条件的。首先</tspan><tspan x="1981" dy="18.33">，我有能力处理好班级的各种事务。因为我自</tspan><tspan x="1981" dy="18.33">认为我具有较高的组织能力和协调能力，凭借</tspan><tspan x="1981" dy="18.33">这一优势，我保证做到将班委一班人的积极性</tspan><tspan x="1981" dy="18.33">都调动起来，使每个班委成员扬长避短，互促</tspan><tspan x="1981" dy="18.33">互补，形成拳头优势。其次，我有能力处理好</tspan><tspan x="1981" dy="18.33">班级的各种事务。因为本人具有较高的组织能</tspan><tspan x="1981" dy="18.33">力和协调能力，凭借这一优势，我保证做到将</tspan><tspan x="1981" dy="18.33">一班人的积极性都调动起来，使每个班的成员</tspan><tspan x="1981" dy="18.33">互相督促，互相学习。</tspan></text></g>
<g id="n-j6"><rect class="bx" x="1974" y="3170" width="299" height="161" rx="7"/><text class="t" x="1981" y="3191.5"><tspan x="1981">我因为担任过班级班长，有一些经验，这是好</tspan><tspan x="1981" dy="18.33">处，正因为这个，我有着敢作敢为的闯劲。但</tspan><tspan x="1981" dy="18.33">是，我又对摆"官架子"看不惯，和不来，因此</tspan><tspan x="1981" dy="18.33">，我的口号是"做一个彻底的平民班级班长"。</tspan><tspan x="1981" dy="18.33">班级班长应该是老师的小帮手，能向同学们传</tspan><tspan x="1981" dy="18.33">达老师的旨意。我保证做到在任何时候，任何</tspan><tspan x="1981" dy="18.33">情况下，都首先是"想同学们之所想，急同学</tspan><tspan x="1981" dy="18.33">们之所急"。</tspan></text></g>
<g id="n-k1"><rect class="bx" x="1974" y="3362" width="299" height="142" rx="7"/><text class="t" x="1981" y="3383.5"><tspan x="1981">也许，在我说出这番"豪言壮语"后，有些人会</tspan><tspan x="1981" dy="18.33">暗自发笑：他怎么这么自负!可是我想说，这</tspan><tspan x="1981" dy="18.33">不是自负，这是自信!一个人如果连自己都不</tspan><tspan x="1981" dy="18.33">相信，那么他就没有资格做任何事，即使做了</tspan><tspan x="1981" dy="18.33">，也很难成功!我之所以能够站在这里，大部</tspan><tspan x="1981" dy="18.33">分是由于我的自信!当然，能力也很重要，因</tspan><tspan x="1981" dy="18.33">为一个人的信心和能力永远是成正比的。</tspan></text></g>
<g id="n-k2"><rect class="bx" x="1974" y="3534" width="299" height="106" rx="7"/><text class="t" x="1981" y="3555.5"><tspan x="1981">我们班委会将努力成为学校领导、班主任与学</tspan><tspan x="1981" dy="18.33">生之间的一座沟通心灵的桥梁，成为师生之间</tspan><tspan x="1981" dy="18.33">的纽带，成为同学之间的"工会"，成为同学们</tspan><tspan x="1981" dy="18.33">努力加压的"催化工厂"，成为"扶正压邪、顾</tspan><tspan x="1981" dy="18.33">全大局"的战斗堡垒!!</tspan></text></g>
<g id="n-k3"><rect class="bx" x="1974" y="3672" width="299" height="142" rx="7"/><text class="t" x="1981" y="3693.5"><tspan x="1981">请大家相信，我会是一名优秀的班级班长，上</tspan><tspan x="1981" dy="18.33">配合领导老师，下组织同学们把学校工作做得</tspan><tspan x="1981" dy="18.33">细密周到、有条不紊，担我职、负我责，我还</tspan><tspan x="1981" dy="18.33">会与其它各部委员密切配合，让我们的班级规</tspan><tspan x="1981" dy="18.33">范每一位同学的举止和日常行为，做到"德"。</tspan><tspan x="1981" dy="18.33">我会用自己的努力为自己赢得尊严、威望，赢</tspan><tspan x="1981" dy="18.33">得信誉!</tspan></text></g>
<g id="n-k4"><rect class="bx" x="1974" y="3845" width="299" height="124" rx="7"/><text class="t" x="1981" y="3866.5"><tspan x="1981">当然，我也知道，此次竞选，不会一帆风顺，</tspan><tspan x="1981" dy="18.33">因为在座要竞选的选手都很优秀，我已经做好</tspan><tspan x="1981" dy="18.33">了准备:面对得失———消极不如积极;面对挫折</tspan><tspan x="1981" dy="18.33">———有信心才有成功;面对自己———有梦想才</tspan><tspan x="1981" dy="18.33">有作为;面对理想———有追求才有希望;面对机</tspan><tspan x="1981" dy="18.33">会———经历比名次更重要!</tspan></text></g>
<g id="n-k5"><rect class="bx" x="1974" y="3999" width="299" height="106" rx="7"/><text class="t" x="1981" y="4020.5"><tspan x="1981">我对自己充满信心，金子总有发光的时候，我</tspan><tspan x="1981" dy="18.33">希望这一次发光的是我，我需要自己的信心以</tspan><tspan x="1981" dy="18.33">及大家的认可，这么久以来我认为竞选班级班</tspan><tspan x="1981" dy="18.33">长是我可以全心为大家服务，尽到一个班级分</tspan><tspan x="1981" dy="18.33">子的责任，我有能力做到的!</tspan></text></g>
<g id="n-k6"><rect class="bx" x="1974" y="4135" width="299" height="106" rx="7"/><text class="t" x="1981" y="4156.5"><tspan x="1981">成为班级班长，是一种荣誉，更是一种责任。</tspan><tspan x="1981" dy="18.33">我知道这条路上有许多挑战，但我相信我有能</tspan><tspan x="1981" dy="18.33">力担起这副担子，因为我的热情，我的毅力，</tspan><tspan x="1981" dy="18.33">我实事求是的工作态度，能真正做好班级班长</tspan><tspan x="1981" dy="18.33">的工作。</tspan></text></g>
</g>
</svg>
